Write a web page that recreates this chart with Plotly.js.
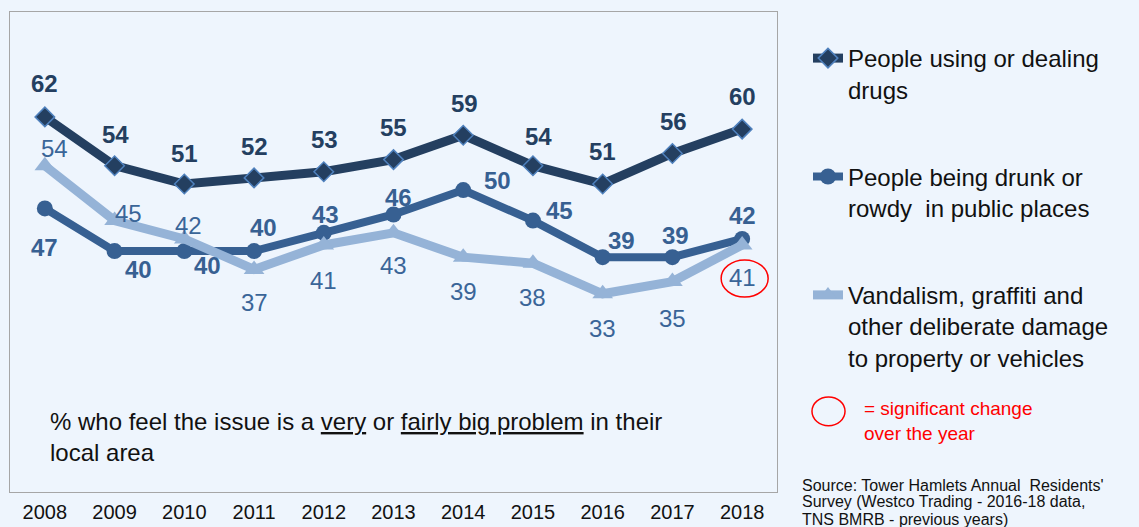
<!DOCTYPE html>
<html><head><meta charset="utf-8">
<script src="https://cdn.plot.ly/plotly-3.0.1.min.js"></script>
<style>html,body{margin:0;padding:0;background:#EEF5FD;} #chart{width:1139px;height:527px;}</style>
</head><body><div id="chart"></div>
<script>
// ---- data ----
const years = [2008,2009,2010,2011,2012,2013,2014,2015,2016,2017,2018];
const drugs = [62,54,51,52,53,55,59,54,51,56,60];
const drunk = [47,40,40,40,43,46,50,45,39,39,42];
const vandal = [54,45,42,37,41,43,39,38,33,35,41];
const seriesNames = [
  'People using or dealing<br>drugs',
  'People being drunk or<br>rowdy\u00a0 in public places',
  'Vandalism, graffiti and<br>other deliberate damage<br>to property or vehicles'
];
const significantIndex = 10; // vandalism 2018

// ---- styles ----
const FONT = 'Liberation Sans, Arial, Helvetica, sans-serif';
const BG = '#EEF5FD';
const cDrugs = '#243F60', cDrunk = '#376092', cVand = '#95B3D7', cVandText = '#3A6598';
const drugsOff = [[0,-33],[1,-31],[0,-30],[0,-31],[1,-32],[0,-32],[1,-32],[6,-29],[0,-32],[1,-32],[0,-33]];
const drunkOff = [[0,39],[24,18],[23,14],[9,-24],[2,-18],[5,-17],[34,-10],[27,-10],[19,-17],[3,-22],[0,-23]];
const vandOff  = [[10,-17],[14,-7],[4,-13],[0,33],[0,36],[0,33],[0,34],[0,34],[0,35],[0,37],[0,33]];

const traces = [
  {x: years, y: drugs, name: seriesNames[0], legendgroup: 'g1', type: 'scatter', mode: 'lines+markers',
   line: {color: cDrugs, width: 9}, marker: {symbol: 'diamond', size: 15, color: cDrugs, line: {color: '#4F81BD', width: 1.5}}},
  {x: years, y: drunk, name: seriesNames[1], legendgroup: 'g2', type: 'scatter', mode: 'lines+markers',
   line: {color: cDrunk, width: 8}, marker: {symbol: 'circle', size: 16, color: cDrunk}},
  {x: years, y: vandal, name: seriesNames[2], legendgroup: 'g3', type: 'scatter', mode: 'lines+markers',
   line: {color: cVand, width: 9}, marker: {symbol: 'triangle-up', size: 18, color: cVand}}
];

const annotations = [];
function addLabels(vals, offs, color, bold) {
  vals.forEach((v, i) => {
    annotations.push({x: years[i], y: v, xref: 'x', yref: 'y', showarrow: false,
      text: bold ? '<b>' + v + '</b>' : String(v),
      xshift: offs[i][0], yshift: -offs[i][1],
      font: {family: FONT, size: 24, color: color}});
  });
}
addLabels(drugs, drugsOff, cDrugs, true);
addLabels(drunk, drunkOff, cDrunk, true);
addLabels(vandal, vandOff, cVandText, false);

annotations.push({xref: 'paper', yref: 'paper', x: 0.0495, y: 0.115, xanchor: 'left', yanchor: 'middle', align: 'left',
  showarrow: false, text: '% who feel the issue is a <u>very</u> or <u>fairly big problem</u> in their<br>local area',
  font: {family: FONT, size: 24, color: '#111'}});
annotations.push({xref: 'paper', yref: 'paper', x: 1.1108, y: 0.148, xanchor: 'left', yanchor: 'middle', align: 'left',
  showarrow: false, text: '= significant change<br>over the year',
  font: {family: FONT, size: 19, color: '#FF0000'}});
const sourceLines = ["Source: Tower Hamlets Annual  Residents'", 'Survey (Westco Trading - 2016-18 data,', 'TNS BMRB - previous years)'];
sourceLines.forEach((t, i) => {
  annotations.push({xref: 'paper', yref: 'paper', x: 1.0300, y: (492 - (485 + i * 17)) / 480, xanchor: 'left', yanchor: 'middle', align: 'left',
    showarrow: false, text: t, font: {family: FONT, size: 16, color: '#111'}});
});

const shapes = [
  {type: 'circle', xref: 'x', yref: 'y', xsizemode: 'pixel', ysizemode: 'pixel',
   xanchor: years[significantIndex], yanchor: vandal[significantIndex],
   x0: -21, x1: 26, y0: -52, y1: -15, line: {color: '#FF0000', width: 1.5}},
  {type: 'circle', xref: 'paper', yref: 'paper', x0: 1.0456, x1: 1.0887, y0: 0.138, y1: 0.198,
   line: {color: '#FF0000', width: 1.5}}
];

const layout = {
  width: 1139, height: 527,
  margin: {l: 10, r: 362, t: 12, b: 35},
  paper_bgcolor: BG, plot_bgcolor: BG,
  font: {family: FONT},
  showlegend: true,
  legend: {x: 1.0404, xanchor: 'left', y: 0.950, yanchor: 'top', valign: 'top', tracegroupgap: 53,
    bgcolor: 'rgba(0,0,0,0)', font: {family: FONT, size: 24, color: '#111'}},
  xaxis: {range: [2007.5, 2018.5], tickmode: 'array', tickvals: years, ticktext: years.map(String),
    showline: true, mirror: true, linecolor: '#A6A6A6', linewidth: 1,
    ticks: 'outside', ticklen: 2, tickcolor: 'rgba(0,0,0,0)', showgrid: false, zeroline: false,
    tickfont: {family: FONT, size: 20, color: '#111'}, fixedrange: true},
  yaxis: {range: [0.5, 79.2], showline: true, mirror: true, linecolor: '#A6A6A6', linewidth: 1,
    showticklabels: false, ticks: '', showgrid: false, zeroline: false, fixedrange: true},
  annotations: annotations,
  shapes: shapes
};

Plotly.newPlot('chart', traces, layout, {displayModeBar: false, staticPlot: true});
</script></body></html>
